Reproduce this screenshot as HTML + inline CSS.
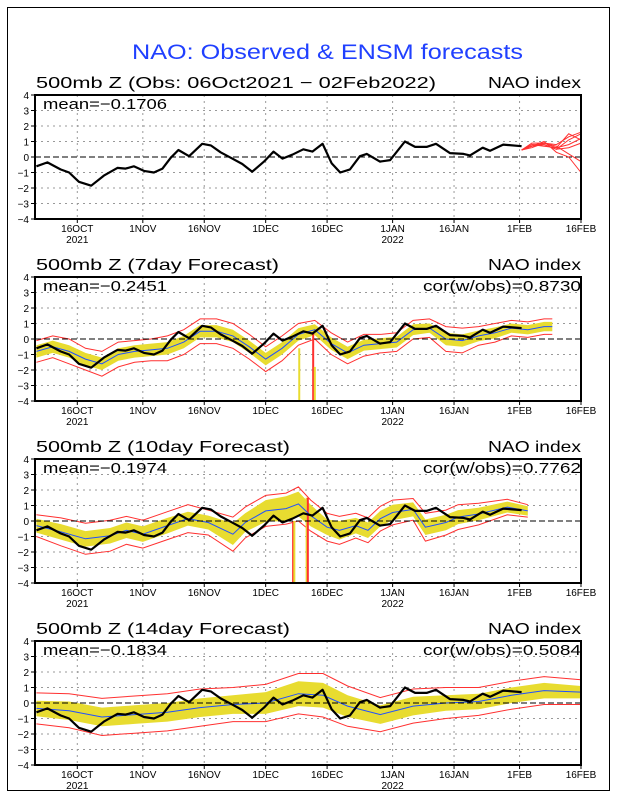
<!DOCTYPE html>
<html><head><meta charset="utf-8"><style>
html,body{margin:0;padding:0;background:#fff;}
svg{display:block;font-family:"Liberation Sans",sans-serif;}
</style></head><body>
<svg id="chart" width="618" height="800" viewBox="0 0 618 800" xmlns="http://www.w3.org/2000/svg">
<rect x="7.5" y="7.5" width="602" height="783" fill="#fff" stroke="#000" stroke-width="1"/>
<text x="132" y="59" textLength="391" lengthAdjust="spacingAndGlyphs" font-size="21" fill="#2040ff">NAO: Observed &amp; ENSM forecasts</text>
</svg>
<script>
// ---- data (days since 06 Oct 2021) ----
const tickDays = [10, 26, 41, 56, 71, 87, 102, 118, 133];
const tickLabels = ["16OCT", "1NOV", "16NOV", "1DEC", "16DEC", "1JAN", "16JAN", "1FEB", "16FEB"];
const yearLabels = ["2021", "", "", "", "", "2022", "", "", ""];
const yTicks = [4, 3, 2, 1, 0, -1, -2, -3, -4];
const obsDays = [0,2.7,5.9,8,10.4,13.4,16.5,19.8,21.8,23.8,26.3,28.7,30.8,32.8,34.7,37.3,40.5,42.6,45,47.5,50.3,52.7,55.6,57.9,60.1,62.5,65.2,67.4,69.9,72.1,74.2,76.6,79,80.7,83.9,86.4,90,92.5,95.3,97.6,101,104.3,105.9,109,110.8,114,118.5];
const obsVals = [-0.6,-0.35,-0.8,-1.0,-1.6,-1.85,-1.2,-0.7,-0.75,-0.6,-0.9,-1.0,-0.75,-0.05,0.45,0.05,0.85,0.75,0.3,-0.05,-0.45,-0.95,-0.3,0.35,-0.1,0.15,0.5,0.35,0.85,-0.4,-1.0,-0.8,0.05,0.2,-0.3,-0.2,1.0,0.65,0.65,0.85,0.25,0.2,0.1,0.6,0.4,0.8,0.7];
const ensDays = [118.5,121,124,127,130,133];
const ens1 = [0.45,0.7,0.9,0.6,0.8,1.2];
const ens2 = [0.45,0.8,0.8,0.5,1.1,1.5];
const ens3 = [0.45,0.6,0.9,0.7,0.2,-0.3];
const ens4 = [0.45,0.7,1.0,0.3,0.0,-1.0];
const ens5 = [0.45,0.8,0.7,0.6,1.5,1.1];
const ens6 = [0.45,0.7,0.8,0.5,0.6,0.9];
const ens7 = [0.45,0.9,0.9,0.8,1.3,1.6];
// 7-day forecast
const f7Days = [0,4,8,12,16,20,24,28,32,36,40,44,48,52,56,60,64,68,72,76,80,84,88,92,96,100,104,108,112,116,120,124,126];
const f7Mean = [-0.8,-0.5,-0.8,-1.3,-1.6,-1.0,-0.8,-0.7,-0.6,-0.2,0.5,0.5,0.2,-0.5,-1.3,-0.6,0.3,0.6,-0.3,-0.9,-0.4,-0.3,-0.2,0.6,0.7,0.0,-0.1,0.2,0.4,0.7,0.6,0.8,0.8];
const f7Band = [0.4,0.4,0.4,0.4,0.4,0.4,0.4,0.4,0.4,0.4,0.4,0.4,0.4,0.4,0.4,0.4,0.4,0.35,0.4,0.4,0.35,0.35,0.35,0.35,0.3,0.4,0.4,0.35,0.35,0.3,0.3,0.3,0.3];
const f7Red = [0.7,0.7,0.8,0.7,0.8,0.8,0.7,0.7,0.8,0.8,0.8,0.8,0.8,0.8,0.8,0.8,0.7,0.6,0.7,0.7,0.7,0.6,0.6,0.6,0.6,0.8,0.8,0.6,0.6,0.5,0.5,0.5,0.5];
const f7Drops = [[64.2,-0.6,"#e8dc30"],[67.6,0.4,"#ff3030"],[68.0,-1.8,"#e8dc30"]];
// 10-day forecast
const f10Days = [0,6,12,18,22,26,32,37,42,48,51,56,61,64,67,71,74,78,81,84,87,92,95,100,103,108,115,120];
const f10Mean = [-0.3,-0.7,-1.15,-0.95,-0.6,-0.85,-0.3,0.15,-0.1,-0.85,-0.1,0.65,0.8,1.1,0.35,-0.4,-0.6,-0.3,-0.6,0.15,0.55,0.75,-0.4,-0.1,0.25,0.45,0.9,0.65];
const f10Band = [0.45,0.5,0.5,0.5,0.5,0.5,0.5,0.45,0.45,0.7,0.6,0.7,0.8,0.8,0.7,0.5,0.6,0.5,0.5,0.5,0.5,0.45,0.5,0.5,0.45,0.4,0.35,0.3];
const f10Red = [0.7,0.9,1.0,1.0,0.9,0.9,0.9,0.9,0.8,1.1,1.0,1.0,1.0,1.1,1.0,0.9,0.9,0.8,0.8,0.8,0.8,0.7,0.9,0.8,0.8,0.7,0.5,0.4];
const f10Drops = [[62.7,0.0,"#ff3030"],[63.0,0.0,"#e8dc30"],[66.0,1.5,"#e8dc30"],[66.3,1.5,"#ff3030"]];
// 14-day forecast
const f14Days = [0,8,16,24,32,40,48,56,64,70,76,84,92,100,108,116,124,133];
const f14Mean = [-0.35,-0.5,-0.9,-0.75,-0.6,-0.3,-0.1,0.0,0.6,0.5,-0.2,-0.75,-0.2,0.0,0.1,0.5,0.8,0.7];
const f14Band = [0.5,0.6,0.6,0.6,0.6,0.6,0.6,0.7,0.8,0.8,0.7,0.6,0.6,0.5,0.5,0.5,0.5,0.4];
const f14Red = [1.0,1.1,1.2,1.2,1.2,1.2,1.1,1.2,1.3,1.4,1.3,1.1,1.1,1.0,0.9,0.9,0.9,0.8];

const panelTitles = ["500mb Z (Obs: 06Oct2021 \u2212 02Feb2022)", "500mb Z (7day Forecast)", "500mb Z (10day Forecast)", "500mb Z (14day Forecast)"];
const titleLens = [400, 243, 254, 254];
const meanLabels = ["mean=\u22120.1706", "mean=\u22120.2451", "mean=\u22120.1974", "mean=\u22120.1834"];
const corLabels = ["", "cor(w/obs)=0.8730", "cor(w/obs)=0.7762", "cor(w/obs)=0.5084"];

const NS = "http://www.w3.org/2000/svg";
const svg = document.getElementById("chart");
const X0 = 35, X1 = 581, PH = 124;
function xs(d){ return 36.35 + d * 4.095; }
function mk(tag, attrs, parent){ const e = document.createElementNS(NS, tag); for (const k in attrs) e.setAttribute(k, attrs[k]); (parent||svg).appendChild(e); return e; }
function ptsOf(days, vals, ys){ return days.map((d,i)=>xs(d).toFixed(1)+","+ys(vals[i]).toFixed(1)).join(" "); }

function drawPanel(p, fc){
  const top = 95 + 182*p, bot = top + PH;
  const ys = v => top + (4 - v) * PH / 8;
  const g = mk("g", {});
  
  
  yTicks.forEach(v=>{ if (v!==4 && v!==-4 && v!==0){ const l = mk("line",{x1:X0,x2:X1,y1:ys(v),y2:ys(v),stroke:"#999","stroke-width":1,"stroke-dasharray":"2,4"},g);   }});
  tickDays.forEach(d=>{ if (d<133){ const l = mk("line",{x1:xs(d),x2:xs(d),y1:top,y2:bot,stroke:"#999","stroke-width":1,"stroke-dasharray":"2,4"},g);   }});
  if (fc){
    const up = fc.days.map((d,i)=>xs(d).toFixed(1)+","+ys(fc.mean[i]+fc.band[i]).toFixed(1));
    const dn = fc.days.map((d,i)=>xs(d).toFixed(1)+","+ys(fc.mean[i]-fc.band[i]).toFixed(1)).reverse();
    const band = mk("polygon",{points:up.concat(dn).join(" "),fill:"#e8dc30",stroke:"none"},g);
    
    
    const rh = mk("polyline",{points:ptsOf(fc.days, fc.mean.map((m,i)=>m+fc.red[i]), ys),fill:"none",stroke:"#ff3030","stroke-width":1},g);
    
    
    const rl = mk("polyline",{points:ptsOf(fc.days, fc.mean.map((m,i)=>m-fc.red[i]), ys),fill:"none",stroke:"#ff3030","stroke-width":1},g);
    
    
    fc.drops.forEach(dr=>{ const l = mk("line",{x1:xs(dr[0]),x2:xs(dr[0]),y1:ys(dr[1]),y2:bot,stroke:dr[2],"stroke-width":2},g);   });
    const bl = mk("polyline",{points:ptsOf(fc.days, fc.mean, ys),fill:"none",stroke:"#2050ff","stroke-width":1},g);
    
    
  }
  const zl = mk("line",{x1:X0,x2:X1,y1:ys(0),y2:ys(0),stroke:"#000","stroke-width":1,"stroke-dasharray":"6,3"},g);
  
  
  if (p===0){
    [ens1,ens2,ens3,ens4,ens5,ens6,ens7].forEach(m=>{ const l = mk("polyline",{points:ptsOf(ensDays,m,ys),fill:"none",stroke:"#ff3030","stroke-width":1},g);   });
  }
  const ob = mk("polyline",{points:ptsOf(obsDays,obsVals,ys),fill:"none",stroke:"#000","stroke-width":2.2,"stroke-linejoin":"round"},g);
  
  
  const fr = mk("rect",{x:X0,y:top,width:X1-X0,height:PH,fill:"none",stroke:"#000","stroke-width":2},g);
  
  
  yTicks.forEach(v=>{
    const t = mk("text",{x:29,y:ys(v)+4,"text-anchor":"end","font-size":10},g); t.textContent = v<0 ? "\u2212"+(-v) : String(v);
     
    mk("line",{x1:X0-4,x2:X0,y1:ys(v),y2:ys(v),stroke:"#000"},g);
  });
  tickDays.forEach((d,i)=>{
    mk("line",{x1:xs(d),x2:xs(d),y1:bot,y2:bot+4,stroke:"#000"},g);
    const t = mk("text",{x:xs(d),y:bot+13,"text-anchor":"middle","font-size":10},g); t.textContent = tickLabels[i];
     
    if (yearLabels[i]){ const y = mk("text",{x:xs(d),y:bot+24,"text-anchor":"middle","font-size":10},g); y.textContent = yearLabels[i];   }
  });
  const ti = mk("text",{x:36,y:top-7,"font-size":16,textLength:titleLens[p],lengthAdjust:"spacingAndGlyphs"},g); ti.textContent = panelTitles[p];
   
  const ni = mk("text",{x:488,y:top-7,"font-size":16,textLength:93,lengthAdjust:"spacingAndGlyphs"},g); ni.textContent = "NAO index";
   
  const me = mk("text",{x:43,y:top+14,"font-size":15,textLength:124,lengthAdjust:"spacingAndGlyphs"},g); me.textContent = meanLabels[p];
   
  if (corLabels[p]){ const c = mk("text",{x:423,y:top+14,"font-size":15,textLength:158,lengthAdjust:"spacingAndGlyphs"},g); c.textContent = corLabels[p];   }
}
drawPanel(0, null);
drawPanel(1, {days:f7Days, mean:f7Mean, band:f7Band, red:f7Red, drops:f7Drops});
drawPanel(2, {days:f10Days, mean:f10Mean, band:f10Band, red:f10Red, drops:f10Drops});
drawPanel(3, {days:f14Days, mean:f14Mean, band:f14Band, red:f14Red, drops:[]});
</script>
</body></html>
